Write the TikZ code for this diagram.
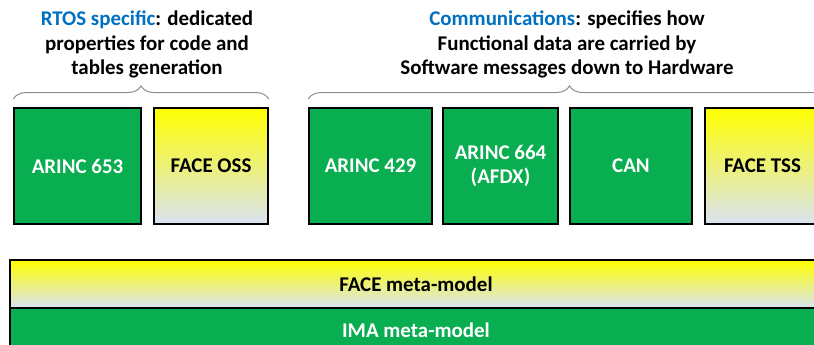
\documentclass[tikz,border=0pt]{standalone}
\usepackage{fontspec}
\setmainfont{Carlito}
\usetikzlibrary{decorations.pathreplacing}
\definecolor{imagreen}{RGB}{8,174,80}
\definecolor{faceyellow}{RGB}{255,255,0}
\definecolor{facemist}{RGB}{218,227,243}
\definecolor{titleblue}{RGB}{0,112,192}
\begin{document}
\begin{tikzpicture}[x=0.75pt,y=-0.75pt,font=\fontsize{15.7}{18.4}\selectfont\bfseries,
  greenbox/.style={draw=black,line width=1.2pt,fill=imagreen,text=white,align=center,
    minimum height=87pt,inner sep=0pt},
  facebox/.style={draw=black,line width=1.2pt,top color=faceyellow,bottom color=facemist,
    text=black,align=center,minimum height=87pt,inner sep=0pt},
  span/.style={decorate,decoration={brace,amplitude=10pt},draw=black!45,line width=0.75pt}]
\useasboundingbox (0,0) rectangle (814,345);
\clip (0,0) rectangle (814,345);
\foreach \nm/\cx/\w/\lab in {a653/77.5/127/{ARINC 653}, a429/370.5/123/{ARINC 429},
  a664/500.5/115/{ARINC 664\\(AFDX)}, can/631/122/{CAN}}
  \node[greenbox,minimum width=\w*0.75pt] (\nm) at (\cx,166) {\lab};
\foreach \nm/\cx/\w/\lab in {oss/211/114/{FACE OSS}, tss/762.5/115/{FACE TSS}}
  \node[facebox,minimum width=\w*0.75pt] (\nm) at (\cx,166) {\lab};
\node[facebox,minimum width=812*0.75pt,minimum height=48*0.75pt] (facemm) at (416,284) {FACE meta-model};
\node[greenbox,minimum width=812*0.75pt,minimum height=44*0.75pt] (imamm) at (416,330) {IMA meta-model};
\draw[span] ([yshift=6pt]a653.north west) -- ([yshift=6pt]oss.north east);
\draw[span] ([yshift=6pt]a429.north west) -- ([shift={(7.5pt,6pt)}]tss.north east);
\node[align=center] (rtos) at (147,44.5)
  {\textcolor{titleblue}{RTOS specific}: dedicated\\properties for code and\\tables generation};
\node[align=center] (comms) at (567,44.5)
  {\textcolor{titleblue}{Communications}: specifies how\\Functional data are carried by\\Software messages down to Hardware};
\end{tikzpicture}
\end{document}
